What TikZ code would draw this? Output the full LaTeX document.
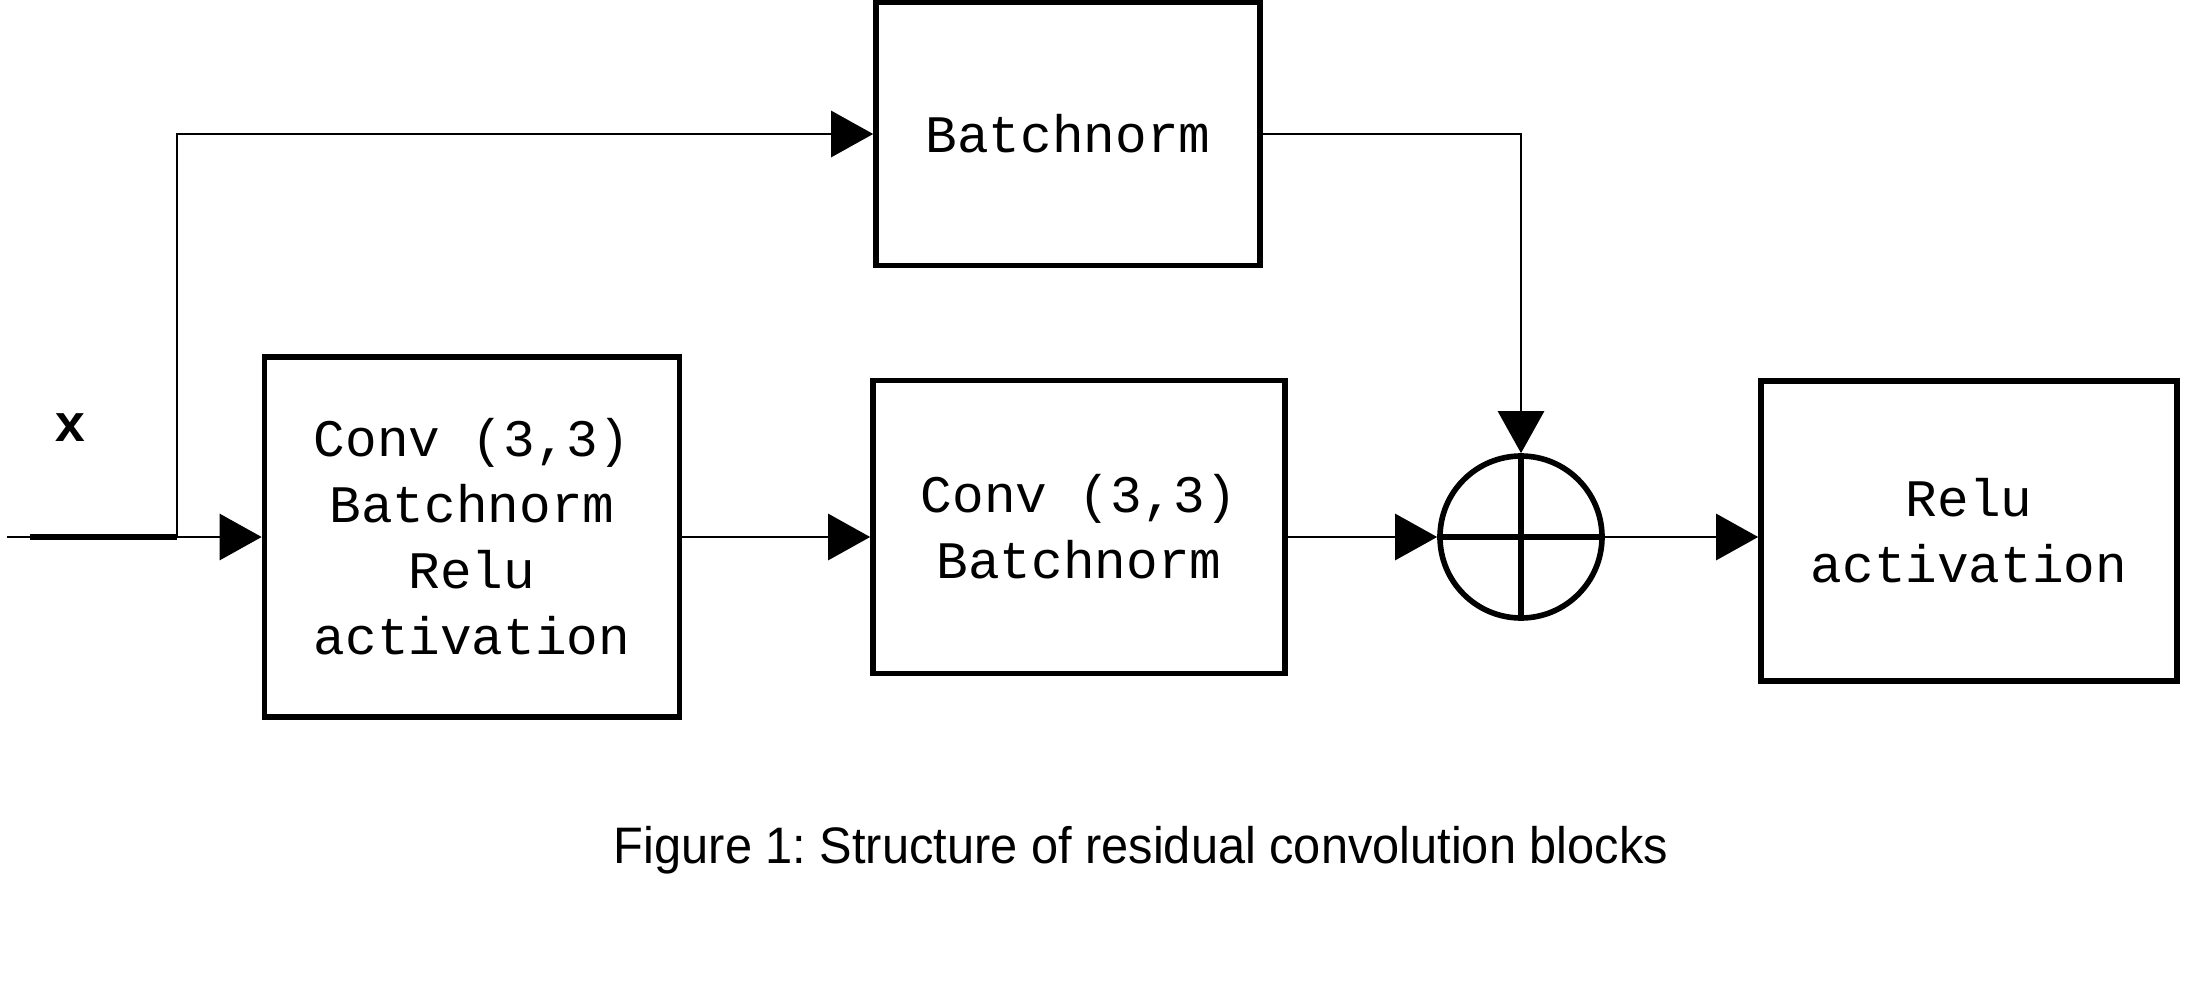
\documentclass[tikz,border=0pt]{standalone}
\usepackage{fontspec}
\setmainfont{Liberation Sans}
\newfontfamily\boxfont{Liberation Mono}
\newfontfamily\capfont[FakeStretch=0.95]{Liberation Sans}
\usepackage{tikz}
\usetikzlibrary{positioning, arrows.meta, shapes.geometric}
\frenchspacing
\tikzset{>={Triangle[length=4.2mm,width=4.6mm]}}
\tikzset{
    block/.style = {rectangle, draw, line width=1.6pt, align=center,
                        font=\boxfont\fontsize{15}{18.8}\selectfont},
    sumop/.style = {circle, draw, line width=1.6pt, minimum size=1.62cm, inner sep=0pt},
    link/.style = {line width=0.8pt}
}

\begin{document}
\begin{tikzpicture}[scale=1]
			\useasboundingbox (0,0) rectangle (21.88,9.92);
			\node (convA) [block, minimum width=4.15cm, minimum height=3.6cm] at (4.72,4.55) {Conv (3,3)\\ Batchnorm\\Relu\\activation};
			\node (convB) [block, minimum width=4.12cm, minimum height=2.93cm] at (10.79,4.65) {Conv (3,3)\\Batchnorm};
			\node (bnorm) [block, minimum width=3.84cm, minimum height=2.63cm] at (10.68,8.58) {Batchnorm};
			\node (add) [sumop] at (15.21,4.55) {};
			\node (relu) [block, minimum width=4.16cm, minimum height=3.0cm] at (19.69,4.61) {Relu\\activation};
			\node (xlab) [font=\boxfont\bfseries\fontsize{15}{18}\selectfont] at (0.70,5.64) {x};
			\node (cap) [font=\capfont\fontsize{14.6}{16}\selectfont] at (11.41,1.42) {Figure 1: Structure of residual convolution blocks};
			\coordinate (in) at (0.07,4.55);
			\coordinate (fork) at (1.77,4.55);
			% main path
			\draw [link] (in) -- (fork);
			\draw [link, line width=1.5pt] (0.3,4.55) -- (fork);
			\draw [link, ->] (fork) -- (convA.west);
			\draw [link, ->] (convA.east) -- (convA.east -| convB.west);
			\draw [link, ->] (convB.east |- add.west) -- (add.west);
			\draw [link, ->] (add.east) -- (add.east -| relu.west);
			% shortcut
			\draw [link, ->] (fork) |- (bnorm.west);
			\draw [link, ->] (bnorm.east) -| (add.north);
			% plus sign
			\draw [line width=1.6pt] (add.north) -- (add.south);
			\draw [line width=1.6pt] (add.west) -- (add.east);
		\end{tikzpicture}
\end{document}
